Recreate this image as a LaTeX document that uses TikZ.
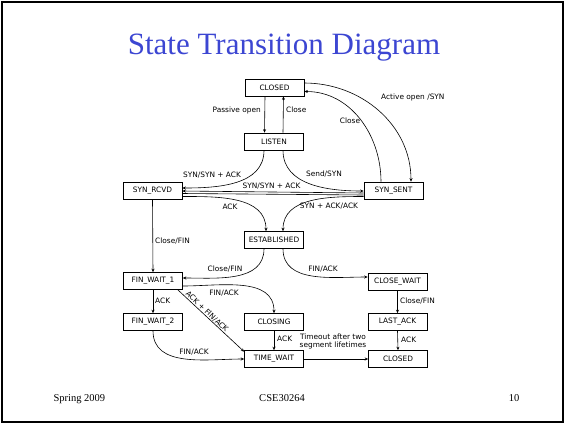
\documentclass[tikz,border=0pt]{standalone}
\usepackage{fontspec}
\setmainfont{Liberation Serif}
\newfontfamily\diagfont{DejaVu Sans}
\usetikzlibrary{arrows.meta}
\definecolor{titleblue}{RGB}{60,70,210}
\newcommand\smallsans{\diagfont\fontsize{7.4}{8.6}\selectfont}
\tikzset{
  state/.style={draw, line width=0.6pt, minimum width=59pt, minimum height=17pt, inner sep=0pt, font=\smallsans},
  lbl/.style={inner sep=0pt, font=\smallsans},
  tr/.style={line width=0.6pt, -{Stealth[length=3.5pt,width=3pt]}},
  foot/.style={anchor=base, font=\fontsize{10.5}{12}\selectfont},
}
\begin{document}
\begin{tikzpicture}[x=1pt,y=1pt]
\useasboundingbox (0,0) rectangle (565,-424);
% slide frame
\draw[line width=1.2pt] (2,-2) rectangle (563,-422);
% title
\node[anchor=base, text=titleblue, font=\fontsize{31}{34}\selectfont] (title) at (284,-54) {State Transition Diagram};
% states
\node[state] (closed) at (274.5,-87.5) {CLOSED};
\node[state] (listen) at (274,-141.5) {LISTEN};
\node[state] (synrcvd) at (152.5,-190.5) {SYN\_RCVD};
\node[state] (synsent) at (393.5,-190.5) {SYN\_SENT};
\node[state] (estab) at (274,-240) {ESTABLISHED};
\node[state] (finwait1) at (153,-281) {FIN\_WAIT\_1};
\node[state] (finwait2) at (153,-322) {FIN\_WAIT\_2};
\node[state] (closing) at (274,-322) {CLOSING};
\node[state] (closewait) at (397.5,-281.5) {CLOSE\_WAIT};
\node[state] (lastack) at (397.5,-322) {LAST\_ACK};
\node[state] (timewait) at (274,-359) {TIME\_WAIT};
\node[state] (closedb) at (398,-359) {CLOSED};
% opening
\draw[tr] ([xshift=-9.5pt]closed.south) -- ([xshift=-9.5pt]listen.north);
\draw[tr] ([xshift=9pt]listen.north) -- ([xshift=9pt]closed.south);
\draw[tr] ([yshift=4.5pt]closed.east) to[out=0,in=90] ([xshift=17.5pt]synsent.north);
\draw[tr] ([xshift=-12.5pt]synsent.north) to[out=90,in=0] ([yshift=-4pt]closed.east);
\draw[tr] ([xshift=-10pt]listen.south) to[out=-90,in=0] ([yshift=2.5pt]synrcvd.east);
\draw[tr] ([xshift=9pt]listen.south) to[out=-90,in=180] ([yshift=-0.5pt]synsent.west);
\draw[tr] ([yshift=-2.5pt]synsent.west) -- ([yshift=-0.5pt]synrcvd.east);
\draw[line width=0.6pt] ([yshift=-4.5pt]synsent.west) -- ([yshift=-3pt]synrcvd.east);
\draw[tr] ([yshift=-6pt]synrcvd.east) to[out=0,in=90] ([xshift=-8pt]estab.north);
\draw[tr] ([yshift=-6pt]synsent.west) to[out=180,in=90] ([xshift=9pt]estab.north);
% closing
\draw[tr] (synrcvd.south) -- (finwait1.north);
\draw[tr] ([xshift=-10pt]estab.south) to[out=-90,in=0] ([yshift=3pt]finwait1.east);
\draw[tr] ([xshift=9pt]estab.south) to[out=-90,in=180] ([yshift=4.5pt]closewait.west);
\draw[tr] ([yshift=-5pt]finwait1.east) to[out=0,in=90] (closing.north);
\draw[tr] (finwait1.south) -- (finwait2.north);
\draw[tr] ([xshift=-5pt]finwait1.south east) -- ([yshift=-1.5pt]timewait.north west);
\draw[tr] (finwait2.south) to[out=-90,in=180] (timewait.west);
\draw[tr] (closing.south) -- (timewait.north);
\draw[tr] (timewait.east) -- (closedb.west);
\draw[tr] (closewait.south) -- (lastack.north);
\draw[tr] (lastack.south) -- (closedb.north);
% transition labels
\node[lbl, anchor=east] (lpassive) at (261,-110) {Passive open};
\node[lbl, anchor=west] (lclose1) at (286,-110) {Close};
\node[lbl, anchor=west] (lactive) at (381,-97) {Active open /SYN};
\node[lbl] (lclose2) at (350,-121) {Close};
\node[lbl] (lsynack1) at (212,-175) {SYN/SYN + ACK};
\node[lbl] (lsend) at (324,-174) {Send/SYN};
\node[lbl] (lsynack2) at (271.5,-186) {SYN/SYN + ACK};
\node[lbl] (lack1) at (230,-207) {ACK};
\node[lbl] (lsynackack) at (329,-206) {SYN + ACK/ACK};
\node[lbl, anchor=west] (lclosefin1) at (155,-241) {Close/FIN};
\node[lbl] (lclosefin2) at (225,-269) {Close/FIN};
\node[lbl] (lfinack1) at (323,-269) {FIN/ACK};
\node[lbl] (lfinack2) at (224,-293) {FIN/ACK};
\node[lbl, anchor=west] (lack2) at (155,-301) {ACK};
\node[lbl, rotate=-43.7] (lackfin) at (207,-311.5) {ACK + FIN/ACK};
\node[lbl] (lfinack3) at (194,-352) {FIN/ACK};
\node[lbl, anchor=west] (lack3) at (277,-339) {ACK};
\node[lbl, align=center] (ltimeout) at (333,-341.5) {Timeout after two\\segment lifetimes};
\node[lbl, anchor=west] (lclosefin3) at (400,-301) {Close/FIN};
\node[lbl, anchor=west] (lack4) at (401,-340) {ACK};
% footer
\node[foot, anchor=base west] (fdate) at (50,-401) {Spring 2009};
\node[foot] (fcourse) at (282,-401) {CSE30264};
\node[foot] (fpage) at (514,-401) {10};
\end{tikzpicture}
\end{document}
